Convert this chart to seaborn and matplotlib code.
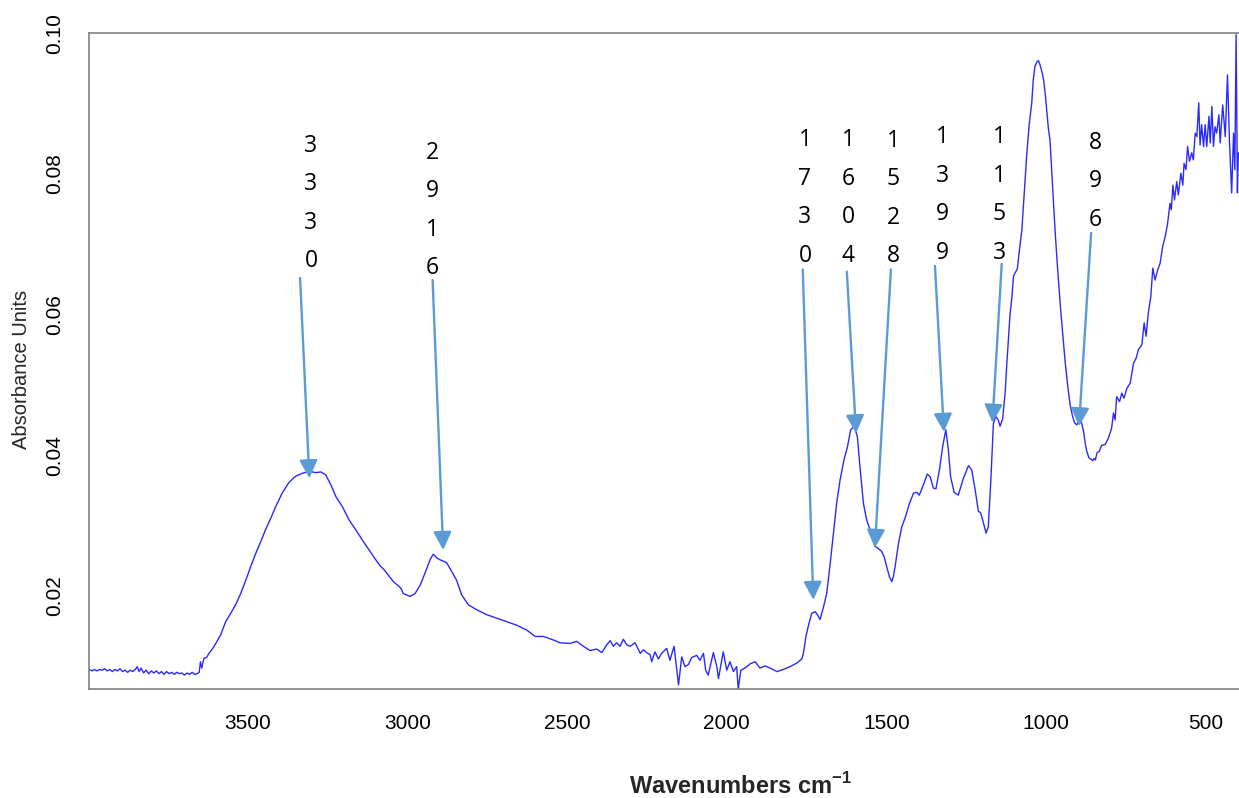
import matplotlib
matplotlib.use("Agg")
import matplotlib.pyplot as plt
import seaborn as sns
import pandas as pd

# ---------------- data ----------------
wavenumber = [
    3997, 3988, 3980, 3972, 3964, 3956, 3948, 3940, 3932, 3924, 3916, 3908, 3900, 3892, 3884,
    3876, 3868, 3860, 3852, 3846, 3840, 3834, 3826, 3818, 3810, 3802, 3794, 3786, 3778, 3770,
    3762, 3754, 3746, 3738, 3730, 3722, 3714, 3706, 3698, 3690, 3682, 3674, 3666, 3658, 3652,
    3648, 3644, 3637, 3629, 3621, 3611, 3600, 3585, 3569, 3553, 3538, 3522, 3506, 3491, 3475,
    3459, 3444, 3428, 3412, 3392, 3371, 3350, 3329, 3308, 3287, 3271, 3256, 3240, 3224, 3204,
    3183, 3162, 3141, 3120, 3099, 3086, 3073, 3044, 3021, 3013, 2992, 2976, 2960, 2945, 2929,
    2919, 2906, 2893, 2877, 2861, 2846, 2830, 2809, 2783, 2752, 2720, 2689, 2658, 2626, 2600,
    2574, 2543, 2522, 2491, 2470, 2449, 2428, 2407, 2391, 2376, 2365, 2355, 2345, 2334, 2324,
    2313, 2303, 2287, 2271, 2261, 2251, 2240, 2235, 2225, 2214, 2204, 2188, 2178, 2165, 2151,
    2141, 2131, 2120, 2110, 2094, 2084, 2073, 2066, 2058, 2042, 2031, 2026, 2011, 2000, 1990,
    1979, 1969, 1964, 1956, 1943, 1927, 1911, 1896, 1880, 1864, 1843, 1823, 1802, 1781, 1765,
    1760, 1752, 1744, 1734, 1723, 1716, 1708, 1697, 1687, 1676, 1666, 1656, 1645, 1633, 1622,
    1612, 1601, 1591, 1583, 1572, 1562, 1551, 1536, 1528, 1515, 1507, 1499, 1490, 1483, 1478,
    1473, 1462, 1452, 1442, 1428, 1415, 1405, 1397, 1384, 1372, 1363, 1353, 1345, 1334, 1324,
    1314, 1306, 1299, 1288, 1275, 1259, 1243, 1233, 1222, 1212, 1205, 1196, 1188, 1181, 1173,
    1165, 1158, 1150, 1144, 1136, 1128, 1123, 1113, 1107, 1102, 1096, 1090, 1084, 1076, 1068,
    1061, 1053, 1045, 1040, 1035, 1028, 1024, 1019, 1013, 1008, 1003, 998, 993, 988, 982,
    977, 972, 964, 956, 948, 940, 932, 925, 917, 911, 904, 899, 893, 888, 883,
    878, 873, 866, 859, 854, 850, 846, 840, 834, 826, 815, 805, 800, 795, 789,
    784, 779, 770, 763, 756, 747, 737, 726, 718, 711, 700, 693, 687, 680, 672,
    666, 659, 651, 643, 635, 627, 620, 612, 608, 603, 598, 591, 586, 578, 572,
    568, 562, 557, 551, 544, 539, 533, 528, 522, 518, 513, 507, 502, 497, 490,
    486, 481, 476, 471, 466, 459, 455, 447, 439, 432, 426, 419, 413, 409, 405,
    401, 398,
]
absorbance = [
    0.0095, 0.0093, 0.0095, 0.0093, 0.0095, 0.0094, 0.0096, 0.0093, 0.0095, 0.0092, 0.0095, 0.0093, 0.0096, 0.0092, 0.0094,
    0.0091, 0.0094, 0.0092, 0.0095, 0.0099, 0.0092, 0.0097, 0.0090, 0.0094, 0.0089, 0.0093, 0.0090, 0.0093, 0.0089, 0.0092,
    0.0088, 0.0092, 0.0089, 0.0091, 0.0088, 0.0091, 0.0089, 0.0090, 0.0087, 0.0090, 0.0088, 0.0091, 0.0088, 0.0089, 0.0091,
    0.0106, 0.0097, 0.0111, 0.0112, 0.0118, 0.0124, 0.0132, 0.0144, 0.0163, 0.0175, 0.0187, 0.0203, 0.0222, 0.0241, 0.0260,
    0.0277, 0.0294, 0.0310, 0.0327, 0.0346, 0.0361, 0.0370, 0.0374, 0.0377, 0.0375, 0.0376, 0.0372, 0.0358, 0.0341, 0.0327,
    0.0308, 0.0294, 0.0279, 0.0265, 0.0251, 0.0243, 0.0237, 0.0220, 0.0211, 0.0203, 0.0199, 0.0203, 0.0215, 0.0232, 0.0251,
    0.0259, 0.0253, 0.0250, 0.0247, 0.0234, 0.0222, 0.0201, 0.0187, 0.0180, 0.0173, 0.0168, 0.0163, 0.0158, 0.0151, 0.0142,
    0.0142, 0.0137, 0.0133, 0.0132, 0.0135, 0.0128, 0.0122, 0.0124, 0.0119, 0.0130, 0.0136, 0.0128, 0.0133, 0.0128, 0.0138,
    0.0130, 0.0128, 0.0133, 0.0118, 0.0123, 0.0119, 0.0116, 0.0106, 0.0120, 0.0110, 0.0118, 0.0125, 0.0108, 0.0128, 0.0073,
    0.0113, 0.0099, 0.0102, 0.0112, 0.0115, 0.0108, 0.0118, 0.0094, 0.0087, 0.0119, 0.0099, 0.0082, 0.0120, 0.0094, 0.0106,
    0.0092, 0.0099, 0.0067, 0.0094, 0.0097, 0.0103, 0.0106, 0.0097, 0.0100, 0.0097, 0.0092, 0.0095, 0.0099, 0.0104, 0.0110,
    0.0118, 0.0142, 0.0158, 0.0175, 0.0177, 0.0173, 0.0166, 0.0184, 0.0203, 0.0246, 0.0289, 0.0331, 0.0365, 0.0393, 0.0412,
    0.0436, 0.0441, 0.0426, 0.0384, 0.0331, 0.0308, 0.0293, 0.0270, 0.0268, 0.0263, 0.0255, 0.0241, 0.0226, 0.0220, 0.0228,
    0.0241, 0.0275, 0.0298, 0.0310, 0.0331, 0.0346, 0.0347, 0.0343, 0.0358, 0.0373, 0.0369, 0.0353, 0.0352, 0.0379, 0.0412,
    0.0436, 0.0407, 0.0369, 0.0347, 0.0343, 0.0367, 0.0385, 0.0379, 0.0350, 0.0320, 0.0318, 0.0303, 0.0289, 0.0298, 0.0365,
    0.0445, 0.0455, 0.0450, 0.0441, 0.0452, 0.0490, 0.0530, 0.0600, 0.0625, 0.0655, 0.0660, 0.0665, 0.0690, 0.0720, 0.0775,
    0.0825, 0.0870, 0.0901, 0.0935, 0.0953, 0.0960, 0.0961, 0.0955, 0.0945, 0.0934, 0.0915, 0.0890, 0.0865, 0.0849, 0.0800,
    0.0760, 0.0720, 0.0665, 0.0616, 0.0572, 0.0531, 0.0497, 0.0472, 0.0455, 0.0446, 0.0443, 0.0447, 0.0453, 0.0444, 0.0434,
    0.0418, 0.0406, 0.0396, 0.0394, 0.0392, 0.0395, 0.0393, 0.0404, 0.0405, 0.0414, 0.0415, 0.0424, 0.0431, 0.0438, 0.0460,
    0.0450, 0.0483, 0.0476, 0.0488, 0.0481, 0.0495, 0.0502, 0.0531, 0.0538, 0.0550, 0.0557, 0.0588, 0.0569, 0.0602, 0.0626,
    0.0666, 0.0649, 0.0663, 0.0673, 0.0697, 0.0711, 0.0728, 0.0758, 0.0749, 0.0784, 0.0763, 0.0789, 0.0770, 0.0801, 0.0784,
    0.0815, 0.0806, 0.0839, 0.0818, 0.0830, 0.0820, 0.0858, 0.0853, 0.0901, 0.0841, 0.0870, 0.0839, 0.0870, 0.0839, 0.0882,
    0.0844, 0.0896, 0.0839, 0.0867, 0.0858, 0.0884, 0.0844, 0.0898, 0.0853, 0.0941, 0.0848, 0.0773, 0.0858, 0.0806, 0.0998,
    0.0773, 0.0830,
]

# peak annotations
peak_labels = ["3330", "2916", "1730", "1604", "1528", "1399", "1153", "896"]
label_x = [3302, 2923, 1755, 1619, 1478, 1324, 1147, 847]
label_y = [0.0840, 0.0830, 0.0848, 0.0848, 0.0847, 0.0852, 0.0852, 0.0844]
arrow_tail_x = [3336, 2921, 1762, 1624, 1486, 1348, 1139, 859]
arrow_tail_y = [0.0652, 0.0649, 0.0664, 0.0661, 0.0664, 0.0669, 0.0672, 0.0716]
arrow_head_x = [3307, 2888, 1729, 1595, 1536, 1320, 1168, 897]
arrow_head_y = [0.0367, 0.0265, 0.0194, 0.0431, 0.0268, 0.0433, 0.0446, 0.0441]

x_ticks = [3500, 3000, 2500, 2000, 1500, 1000, 500]
y_ticks = [0.02, 0.04, 0.06, 0.08, 0.10]
y_tick_labels = ["0.02", "0.04", "0.06", "0.08", "0.10"]

# ---------------- styling ----------------
sns.set_style("white")
plt.rcParams["font.family"] = ["Liberation Sans", "DejaVu Sans"]
plt.rcParams["mathtext.fontset"] = "custom"
plt.rcParams["mathtext.rm"] = "Liberation Sans"
plt.rcParams["mathtext.bf"] = "Liberation Sans:bold"

df = pd.DataFrame({"wn": wavenumber, "A": absorbance})

fig = plt.figure(figsize=(12.39, 7.98), dpi=100)
ax = fig.add_axes([0.07183, 0.13622, 0.92817, 0.82206])

sns.lineplot(data=df, x="wn", y="A", sort=False, estimator=None,
             color="#2a2aff", linewidth=1.0, ax=ax)

ax.set_xlim(3997, 396)
ax.set_ylim(0.00668, 0.1)
ax.set_xticks(x_ticks)
ax.set_xticklabels([str(t) for t in x_ticks])
ax.set_yticks(y_ticks)
ax.set_yticklabels(y_tick_labels, rotation=90, va="center")

spine_col = "#808080"
for side in ["left", "bottom", "top"]:
    ax.spines[side].set_visible(True)
    ax.spines[side].set_color(spine_col)
    ax.spines[side].set_linewidth(1.2)
ax.spines["right"].set_visible(False)

ax.tick_params(axis="both", direction="out", length=10, width=1.2,
               color=spine_col, labelsize=15, labelcolor="black")
ax.tick_params(axis="x", pad=8)
ax.tick_params(axis="y", pad=8)

ax.set_xlabel(r"Wavenumbers cm$^{\mathbf{-1}}$", fontsize=17, fontweight="bold")
ax.xaxis.set_label_coords(0.566, -0.127)
ax.set_ylabel("Absorbance Units", fontsize=14.5)
ax.yaxis.set_label_coords(-0.05, 0.487)

arrow_col = "#5b9bd5"
for lab, lx, ly, tx, ty, hx, hy in zip(peak_labels, label_x, label_y,
                                        arrow_tail_x, arrow_tail_y,
                                        arrow_head_x, arrow_head_y):
    for i, ch in enumerate(lab):
        ax.annotate(ch, xy=(lx, ly), xytext=(0, -i * 27.7),
                    textcoords="offset points", ha="center", va="center",
                    fontsize=16.5, family=["Open Sans", "DejaVu Sans"],
                    color="black", annotation_clip=False)
    ax.annotate("", xy=(hx, hy), xytext=(tx, ty),
                arrowprops=dict(arrowstyle="-|>,head_length=0.5,head_width=0.25",
                                color=arrow_col, lw=1.7, mutation_scale=22,
                                shrinkA=0, shrinkB=0))

fig.savefig("out.png", dpi=100)
